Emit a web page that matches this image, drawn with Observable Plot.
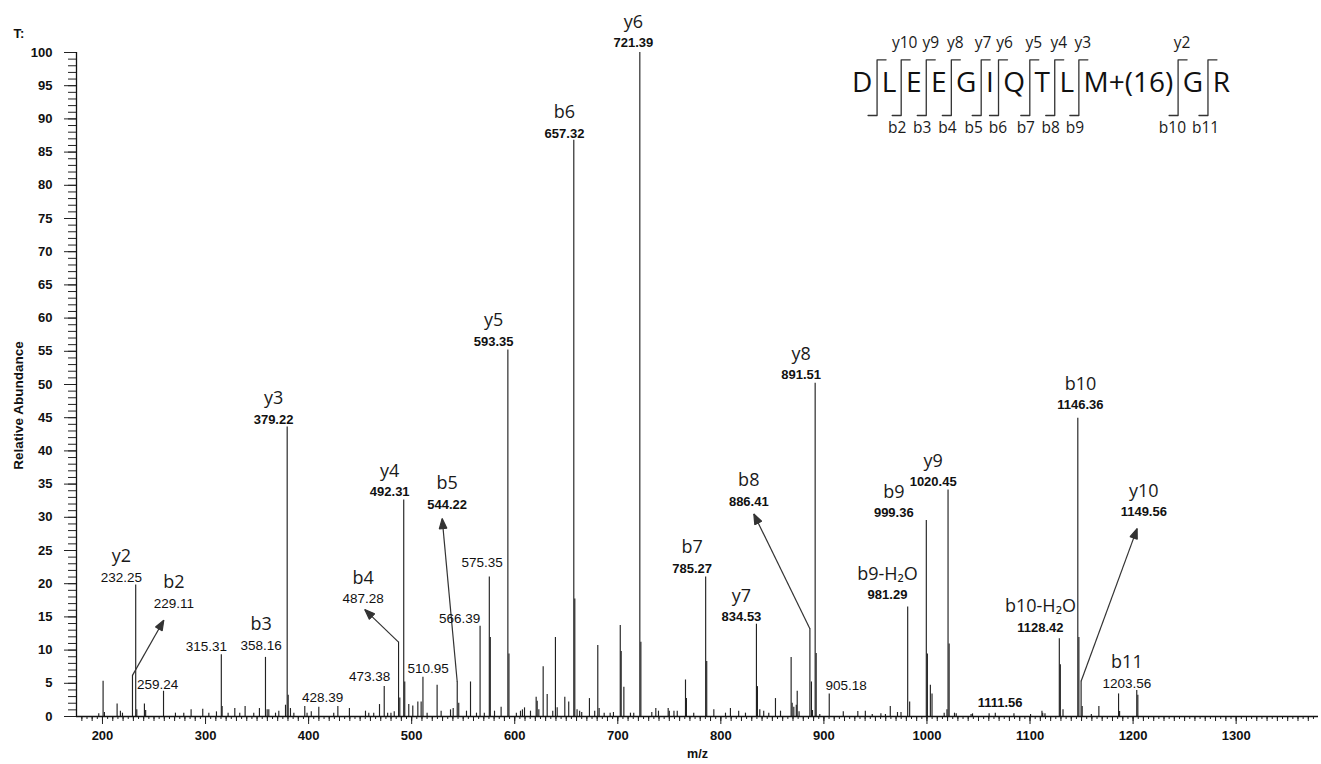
<!DOCTYPE html>
<html>
<head>
<meta charset="utf-8">
<script src="https://cdn.jsdelivr.net/npm/d3@7"></script>
<script src="https://cdn.jsdelivr.net/npm/@observablehq/plot@0.6"></script>
<style>
  html, body { margin: 0; padding: 0; background: #fff; }
  #wrap { position: relative; width: 1321px; height: 764px; overflow: hidden; }
  #seq { position: absolute; left: 840px; top: 20px; }
</style>
</head>
<body>
<div id="wrap"><div id="chart"></div><div id="seq"></div></div>
<script>
// ---- Annotated fragment peaks (m/z, relative abundance, ion assignment) ----
const ionMz = [229.11, 232.25, 259.24, 315.31, 358.16, 379.22, 428.39, 473.38, 487.28, 492.31,
               510.95, 544.22, 566.39, 575.35, 593.35, 657.32, 721.39, 785.27, 834.53, 886.41,
               891.51, 905.18, 981.29, 999.36, 1020.45, 1111.56, 1128.42, 1146.36, 1149.56, 1203.56];
const ionAbundance = [6.2, 19.8, 3.8, 9.3, 8.9, 43.6, 1.5, 4.5, 11.2, 32.6,
                      5.9, 5.2, 13.6, 21.0, 55.2, 86.8, 100, 21.0, 13.9, 13.2,
                      50.2, 3.4, 16.5, 29.5, 34.1, 0.8, 11.7, 44.9, 5.3, 3.9];
const ionNames = ["b2", "y2", "", "", "b3", "y3", "", "", "b4", "y4",
                  "", "b5", "", "", "y5", "b6", "y6", "b7", "y7", "b8",
                  "y8", "", "b9-H₂O", "b9", "y9", "", "b10-H₂O", "b10", "y10", "b11"];

// Where each m/z label sits (m/z, abundance of the label's centre line)
const labelAt = [[269.2, 17.0], [218.4, 20.9], [253.6, 4.8], [300.9, 10.5], [354.0, 10.7],
                 [366.0, 44.7], [413.7, 2.8], [459.3, 6.0], [453.0, 17.7], [478.7, 33.8],
                 [516.0, 7.2], [534.4, 31.9], [546.6, 14.8], [568.4, 23.2], [579.6, 56.5],
                 [648.3, 87.8], [715.2, 101.4], [772.2, 22.3], [820.0, 15.0], [827.1, 32.4],
                 [877.9, 51.4], [921.5, 4.7], [961.7, 18.3], [967.8, 30.6], [1006.0, 35.3],
                 [1071.0, 2.0], [1110.1, 13.4], [1148.9, 46.9], [1210.4, 30.8], [1194.0, 5.0]];
// Labels printed in bold type
const boldLabels = ["379.22", "492.31", "544.22", "593.35", "657.32", "721.39", "785.27", "834.53",
                    "886.41", "891.51", "981.29", "999.36", "1020.45", "1111.56", "1128.42",
                    "1146.36", "1149.56"];
// Pointer arrows from a peak top to its label
const arrowIons = ["b2", "b4", "b5", "b8", "y10"];
const arrowTips = [[259.5, 14.5], [454.5, 16.1], [529.6, 29.8], [832.0, 30.5], [1203.9, 28.3]];

// ---- Unlabelled peaks: [m/z, relative abundance] ----
const backgroundPeaks = [
  [196.4, 0.4], [200.6, 5.3], [201.9, 0.6], [214.2, 1.9], [217.4, 0.8], [219.4, 0.5], [233.3, 1.0],
  [240.7, 1.9], [241.9, 0.9], [270.8, 0.5], [278.9, 0.5], [286.0, 1.0], [297.3, 1.1], [303.2, 0.5],
  [310.6, 0.7], [316.1, 1.5], [321.9, 0.5], [328.4, 1.2], [333.2, 0.5], [338.4, 1.5], [346.8, 0.5],
  [352.3, 1.2], [359.8, 1.0], [361.4, 1.0], [367.9, 0.5], [371.1, 0.8], [377.6, 1.7], [380.2, 3.2],
  [382.4, 1.2], [385.7, 0.5], [396.3, 1.5], [398.5, 0.5], [402.6, 0.7], [409.9, 1.4], [424.4, 0.5],
  [439.6, 1.2], [455.2, 0.8], [458.4, 0.5], [463.2, 0.5], [468.8, 1.8], [476.7, 0.5], [479.9, 0.5],
  [483.1, 0.7], [488.5, 2.8], [493.3, 5.2], [497.2, 1.8], [501.1, 1.6], [506.0, 2.2], [509.2, 2.2],
  [515.0, 0.5], [524.7, 4.7], [528.6, 0.8], [537.7, 1.0], [540.3, 1.2], [545.7, 2.0], [553.2, 0.8],
  [557.1, 5.2], [562.9, 0.5], [570.5, 0.5], [576.3, 11.9], [580.4, 0.8], [586.8, 1.4], [594.4, 9.4],
  [601.6, 0.5], [605.6, 0.8], [607.5, 1.0], [609.5, 1.3], [615.3, 0.8], [620.8, 2.9], [621.8, 2.3],
  [623.4, 1.0], [627.6, 7.5], [631.5, 3.3], [636.9, 0.8], [639.5, 11.9], [641.2, 1.3], [648.6, 2.9],
  [652.4, 2.2], [658.3, 17.7], [660.5, 1.0], [663.0, 0.8], [665.0, 0.6], [672.5, 2.7], [677.6, 0.8],
  [680.6, 10.7], [681.9, 1.2], [686.8, 0.5], [692.6, 0.5], [695.8, 0.6], [702.4, 13.7], [703.3, 9.8],
  [705.9, 4.4], [712.3, 0.5], [715.5, 0.5], [722.4, 11.2], [733.0, 0.6], [736.9, 1.2], [739.5, 0.8],
  [748.9, 1.2], [750.0, 0.8], [754.5, 0.8], [757.7, 0.8], [765.7, 5.5], [766.6, 2.7], [773.7, 0.5],
  [786.3, 8.3], [793.2, 1.0], [804.5, 0.5], [809.3, 1.2], [817.3, 0.8], [823.9, 0.5], [835.5, 4.5],
  [837.8, 1.0], [841.6, 0.8], [846.5, 0.5], [853.0, 2.7], [857.9, 0.8], [868.2, 8.9], [869.2, 2.0],
  [870.8, 1.4], [873.2, 1.7], [874.1, 3.8], [875.9, 0.7], [887.9, 5.2], [888.9, 0.9], [892.5, 9.5],
  [896.0, 0.3], [918.8, 0.7], [932.9, 0.75], [940.2, 0.8], [946.9, 0.3], [955.3, 0.4], [959.7, 0.3],
  [964.4, 1.5], [971.4, 0.6], [974.8, 0.6], [983.2, 2.2], [1000.4, 9.4], [1003.3, 4.7], [1004.9, 3.4],
  [1016.7, 0.5], [1019.4, 1.0], [1021.5, 10.9], [1026.7, 0.5], [1028.4, 0.4], [1042.8, 0.3],
  [1044.2, 0.4], [1060.3, 0.4], [1066.3, 0.5], [1084.4, 0.4], [1100.5, 0.3], [1112.3, 0.5],
  [1114.5, 0.4], [1129.4, 7.8], [1132.0, 1.0], [1147.4, 11.9], [1150.6, 1.5], [1159.5, 0.3],
  [1166.8, 1.5], [1185.9, 3.4], [1186.9, 0.75], [1204.6, 3.2]
];

// ---- Axes ----
const xDomain = [174.8, 1379.9];
const xTicks = [200, 300, 400, 500, 600, 700, 800, 900, 1000, 1100, 1200, 1300];
const yTicks = [0, 5, 10, 15, 20, 25, 30, 35, 40, 45, 50, 55, 60, 65, 70, 75, 80, 85, 90, 95, 100];

// ---- Peptide sequence with fragment brackets ----
const residues = ["D", "L", "E", "E", "G", "I", "Q", "T", "L", "M+(16)", "G", "R"];
const yIonLabels = ["y10", "y9", "y8", "y7", "y6", "y5", "y4", "y3", "y2"];          // sites 2..10
const bIonLabels = ["b2", "b3", "b4", "b5", "b6", "b7", "b8", "b9", "b10", "b11"];  // sites 2..11

// ---------------------------------------------------------------------------
const peaks = [
  ...ionMz.map((mz, i) => [mz, ionAbundance[i]]),
  ...backgroundPeaks
];

const labels = ionMz.map((mz, i) => ({
  mz, ab: ionAbundance[i], ion: ionNames[i],
  text: mz.toFixed(2), lx: labelAt[i][0], ly: labelAt[i][1]
}));
labels.forEach(d => d.bold = boldLabels.includes(d.text));

const arrows = arrowIons.map((ion, i) => {
  const k = ionNames.indexOf(ion);
  return {x1: ionMz[k], y1: ionAbundance[k], x2: arrowTips[i][0], y2: arrowTips[i][1]};
});

// filled triangular arrow head
function headMarker(color) {
  const ns = "http://www.w3.org/2000/svg";
  const m = document.createElementNS(ns, "marker");
  m.setAttribute("viewBox", "-11 -5 12 10");
  m.setAttribute("markerWidth", 12);
  m.setAttribute("markerHeight", 10);
  m.setAttribute("markerUnits", "userSpaceOnUse");
  m.setAttribute("orient", "auto");
  const p = document.createElementNS(ns, "path");
  p.setAttribute("d", "M-10,-3.8L0,0L-10,3.8Z");
  p.setAttribute("fill", color);
  m.appendChild(p);
  return m;
}

const numFont = "'Liberation Sans', Arial, Helvetica, sans-serif";
const ionFont = "'Open Sans', 'Noto Sans', 'DejaVu Sans', sans-serif";

const chart = Plot.plot({
  width: 1321,
  height: 764,
  marginLeft: 76,
  marginRight: 3,
  marginTop: 52,
  marginBottom: 48,
  x: {domain: xDomain},
  y: {domain: [0, 100]},
  style: {fontFamily: numFont, color: "#111", background: "#fff", overflow: "visible"},
  marks: [
    // spectrum sticks
    Plot.ruleX(peaks, {x: d => d[0], y1: 0, y2: d => d[1], stroke: "#222", strokeWidth: 1.15}),

    // y axis: unit minor ticks, labelled ticks every 5
    Plot.axisY({ticks: d3.range(0, 101, 1), tickSize: 8, tickFormat: () => "", label: null, stroke: "#222"}),
    Plot.axisY({ticks: yTicks, tickSize: 12, tickPadding: 12, tickFormat: d => `${d}`, label: null,
                fontSize: 13, fontWeight: "bold", stroke: "#222"}),
    // x axis: ticks every 5 and 10, labelled ticks every 100
    Plot.axisX({ticks: d3.range(180, 1380, 5), tickSize: 3, tickFormat: () => "", label: null, stroke: "#222"}),
    Plot.axisX({ticks: d3.range(180, 1380, 10), tickSize: 5, tickFormat: () => "", label: null, stroke: "#222"}),
    Plot.axisX({ticks: xTicks, tickSize: 8, tickPadding: 6, tickFormat: d => `${d}`, label: null,
                fontSize: 13, fontWeight: "bold", stroke: "#222"}),
    Plot.ruleY([0], {stroke: "#111", strokeWidth: 1.3}),
    Plot.ruleX([xDomain[0]], {stroke: "#111", strokeWidth: 1.3}),

    // axis titles and scan header
    Plot.text(["Relative Abundance"], {frameAnchor: "left", text: d => d, rotate: -90, textAnchor: "middle",
                dx: -58, dy: 21, fontSize: 13.5, fontWeight: "bold"}),
    Plot.text(["m/z"], {frameAnchor: "bottom", text: d => d, dy: 41, fontSize: 12.5, fontWeight: "bold"}),
    Plot.text(["T:"], {frameAnchor: "top-left", text: d => d, dx: -63, dy: -24, textAnchor: "start",
                fontSize: 13, fontWeight: "bold"}),

    // pointer arrows
    Plot.link(arrows, {x1: "x1", y1: "y1", x2: "x2", y2: "y2", stroke: "#333", strokeWidth: 1.2,
                markerEnd: headMarker}),

    // m/z labels
    Plot.text(labels.filter(d => d.bold), {x: "lx", y: "ly", text: "text", fontSize: 13, fontWeight: "bold"}),
    Plot.text(labels.filter(d => !d.bold), {x: "lx", y: "ly", text: "text", fontSize: 13.5}),
    // ion assignments
    Plot.text(labels.filter(d => d.ion), {x: "lx", y: "ly", text: "ion", dy: -21, fontSize: 18,
                fontFamily: ionFont, fill: "#1a1a1a"})
  ]
});
document.getElementById("chart").append(chart);

// ---- sequence layout: residue widths from the font, brackets between residues ----
const ctx = document.createElement("canvas").getContext("2d");
ctx.font = "28px 'Open Sans'";
const widths = residues.map(r => ctx.measureText(r).width);
const span = 378;
const gap = Math.max(3, (span - d3.sum(widths)) / (2 * (residues.length - 1)));
const total = d3.sum(widths) + 2 * gap * (residues.length - 1);
let cursor = 200.5 - total / 2;
const residueLayout = [];
const sites = [];
residues.forEach((r, i) => {
  residueLayout.push({r, x: cursor + widths[i] / 2, y: 71.7});
  cursor += widths[i];
  if (i < residues.length - 1) {
    cursor += gap;
    sites.push(cursor);
    cursor += gap;
  }
});
const bracketTop = 39.3, bracketBottom = 95, arm = 9;
const bracketPts = sites.flatMap((x, k) => [
  {k, x: x + arm, y: bracketTop}, {k, x, y: bracketTop}, {k, x, y: bracketBottom}, {k, x: x - arm, y: bracketBottom}
]);

// push neighbouring fragment labels apart so none of them touch (width-aware)
ctx.font = "15.5px 'Open Sans'";
function spread(names, xs, pad) {
  const w = names.map(t => ctx.measureText(t).width);
  const out = xs.slice();
  for (let pass = 0; pass < 30; pass++) {
    for (let i = 1; i < out.length; i++) {
      const need = (w[i - 1] + w[i]) / 2 + pad;
      const deficit = need - (out[i] - out[i - 1]);
      if (deficit > 0) { out[i - 1] -= deficit / 2; out[i] += deficit / 2; }
    }
  }
  return out;
}
const yLabelX = spread(yIonLabels, yIonLabels.map((t, i) => sites[i + 1] + 4), 5);
const bLabelX = spread(bIonLabels, bIonLabels.map((t, i) => sites[i + 1] - 4), 6);
const yLabelLayout = yIonLabels.map((t, i) => ({t, x: yLabelX[i], y: 27.3}));
const bLabelLayout = bIonLabels.map((t, i) => ({t, x: bLabelX[i], y: 112}));

const seq = Plot.plot({
  width: 400,
  height: 130,
  margin: 0,
  x: {type: "identity", axis: null},
  y: {type: "identity", axis: null},
  style: {background: "transparent", overflow: "visible", color: "#111"},
  marks: [
    Plot.line(bracketPts, {x: "x", y: "y", z: "k", stroke: "#333", strokeWidth: 1.3}),
    Plot.text(residueLayout, {x: "x", y: "y", text: "r", lineAnchor: "bottom", fontSize: 28,
              fontFamily: ionFont, fill: "#111"}),
    Plot.text(yLabelLayout, {x: "x", y: "y", text: "t", lineAnchor: "bottom", fontSize: 15.5,
              fontFamily: ionFont, fill: "#1a1a1a"}),
    Plot.text(bLabelLayout, {x: "x", y: "y", text: "t", lineAnchor: "bottom", fontSize: 15.5,
              fontFamily: ionFont, fill: "#1a1a1a"})
  ]
});
document.getElementById("seq").append(seq);
</script>
</body>
</html>
